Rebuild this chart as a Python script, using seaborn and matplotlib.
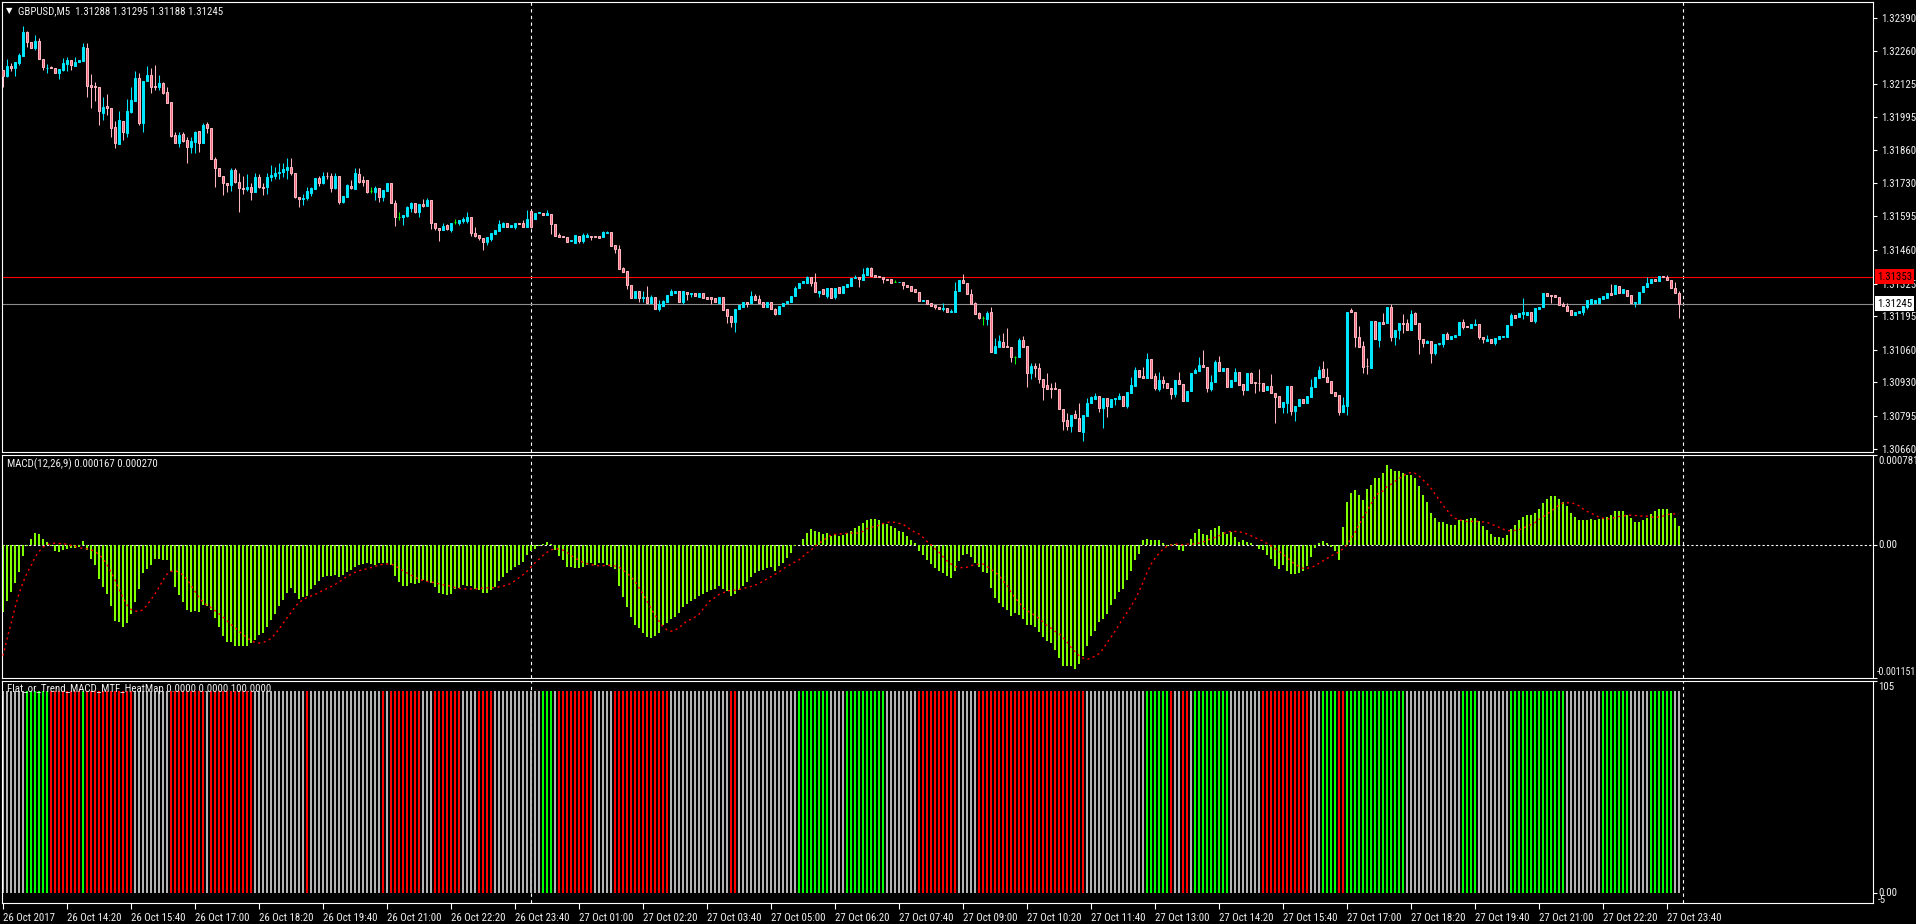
"""GBPUSD M5 terminal screen: candles, MACD(12,26,9) and the Flat/Trend MACD
heat map, redrawn into out.png at 1916x924."""
import numpy as np
import pandas as pd
import matplotlib
matplotlib.use("Agg")
import matplotlib.pyplot as plt
import matplotlib.transforms as mtransforms
from matplotlib import font_manager
import seaborn as sns

W, H = 1916, 924
INK = "#f2f2f2"
BULL = "#00e6ff"
BEAR_EDGE = "#ffb6c1"
BEAR_FACE = "#f06b7d"
DOJI = "#00ff00"
MACD_GREEN = "#7fff00"
SIGNAL_RED = "#ff0000"
HEAT_COLORS = {"red": "#ff0000", "green": "#00ff00", "flat": "#b4b4b4"}
FS = 7.8

# prices are stored as points above 1.30000 (1 point = 0.00001)
BASE_PRICE = 1.30000
OPEN_PTS = [
    2183, 2159, 2199, 2192, 2212, 2239, 2333, 2296, 2270, 2299,
    2225, 2189, 2196, 2189, 2169, 2183, 2207, 2223, 2200, 2213,
    2220, 2271, 2122, 2118, 2113, 2011, 2038, 2029, 1955, 1886,
    1979, 1931, 2015, 2060, 2149, 1969, 2139, 2163, 2118, 2116,
    2129, 2093, 2053, 1922, 1891, 1924, 1902, 1875, 1895, 1938,
    1888, 1966, 1948, 1824, 1788, 1757, 1730, 1721, 1781, 1734,
    1710, 1706, 1712, 1694, 1752, 1714, 1712, 1752, 1759, 1768,
    1775, 1781, 1792, 1771, 1674, 1664, 1668, 1690, 1706, 1748,
    1730, 1757, 1759, 1710, 1759, 1654, 1674, 1717, 1704, 1765,
    1741, 1741, 1698, 1694, 1708, 1674, 1698, 1728, 1650, 1594,
    1594, 1597, 1627, 1647, 1614, 1645, 1638, 1661, 1567, 1547,
    1540, 1560, 1540, 1574, 1567, 1578, 1578, 1591, 1527, 1520,
    1507, 1494, 1503, 1524, 1538, 1554, 1567, 1554, 1554, 1567,
    1570, 1551, 1618, 1583, 1607, 1607, 1601, 1605, 1564, 1520,
    1516, 1511, 1498, 1487, 1518, 1498, 1514, 1518, 1518, 1516,
    1514, 1530, 1531, 1480, 1463, 1387, 1376, 1321, 1269, 1296,
    1266, 1273, 1246, 1270, 1222, 1235, 1253, 1280, 1289, 1296,
    1253, 1290, 1282, 1286, 1273, 1286, 1270, 1270, 1266, 1246,
    1273, 1222, 1195, 1172, 1222, 1233, 1253, 1246, 1277, 1262,
    1250, 1233, 1253, 1222, 1202, 1235, 1246, 1253, 1276, 1306,
    1326, 1329, 1350, 1330, 1289, 1302, 1276, 1306, 1273, 1310,
    1289, 1313, 1316, 1346, 1353, 1340, 1360, 1387, 1360, 1356,
    1353, 1345, 1342, 1332, 1330, 1333, 1320, 1316, 1302, 1293,
    1255, 1259, 1246, 1239, 1233, 1222, 1226, 1213, 1213, 1296,
    1340, 1329, 1282, 1246, 1209, 1186, 1182, 1210, 1048, 1072,
    1092, 1075, 1072, 1029, 1029, 1099, 1075, 965, 994, 988,
    942, 918, 908, 908, 902, 822, 778, 754, 802, 787,
    731, 794, 845, 863, 874, 825, 865, 831, 862, 861,
    874, 834, 887, 916, 978, 954, 948, 1021, 954, 901,
    938, 925, 908, 882, 938, 922, 855, 895, 968, 976,
    999, 989, 901, 932, 1012, 976, 985, 909, 936, 972,
    922, 898, 968, 932, 928, 928, 898, 914, 887, 874,
    829, 847, 914, 815, 834, 861, 845, 869, 909, 945,
    981, 949, 934, 891, 878, 811, 834, 1219, 1213, 1112,
    1075, 995, 988, 1175, 1099, 1172, 1166, 1233, 1112, 1139,
    1168, 1166, 1139, 1206, 1168, 1102, 1088, 1096, 1045, 1083,
    1083, 1123, 1102, 1112, 1119, 1172, 1155, 1146, 1159, 1163,
    1112, 1096, 1102, 1088, 1102, 1110, 1112, 1159, 1199, 1193,
    1203, 1199, 1213, 1176, 1222, 1230, 1289, 1280, 1280, 1273,
    1243, 1235, 1219, 1198, 1209, 1213, 1233, 1243, 1246, 1246,
    1262, 1269, 1289, 1283, 1316, 1289, 1300, 1280, 1246, 1249,
    1290, 1313, 1326, 1342, 1337, 1356, 1353, 1340, 1306, 1288,
]
HIGH_PTS = [
    2183, 2225, 2209, 2215, 2250, 2359, 2341, 2296, 2323, 2310,
    2225, 2207, 2199, 2189, 2187, 2232, 2236, 2223, 2236, 2223,
    2292, 2290, 2167, 2136, 2113, 2073, 2086, 2029, 1979, 2019,
    1979, 2065, 2113, 2180, 2169, 2139, 2199, 2192, 2203, 2163,
    2136, 2113, 2053, 1935, 1935, 1935, 1912, 1912, 1939, 1938,
    1969, 1975, 1948, 1835, 1788, 1757, 1730, 1788, 1788, 1768,
    1757, 1765, 1728, 1771, 1765, 1730, 1768, 1801, 1792, 1810,
    1808, 1828, 1828, 1771, 1674, 1684, 1712, 1712, 1748, 1757,
    1775, 1775, 1771, 1768, 1759, 1677, 1725, 1741, 1788, 1788,
    1755, 1741, 1712, 1717, 1708, 1701, 1728, 1728, 1661, 1614,
    1601, 1637, 1654, 1647, 1643, 1664, 1668, 1661, 1567, 1547,
    1570, 1564, 1567, 1583, 1581, 1594, 1611, 1591, 1551, 1520,
    1507, 1511, 1527, 1540, 1581, 1574, 1567, 1559, 1567, 1567,
    1581, 1620, 1618, 1610, 1614, 1607, 1621, 1605, 1564, 1527,
    1516, 1511, 1500, 1520, 1518, 1527, 1527, 1518, 1518, 1516,
    1538, 1538, 1531, 1480, 1480, 1393, 1376, 1321, 1296, 1296,
    1296, 1316, 1280, 1270, 1259, 1259, 1280, 1302, 1296, 1296,
    1296, 1290, 1289, 1286, 1289, 1286, 1270, 1270, 1266, 1273,
    1273, 1222, 1195, 1222, 1239, 1253, 1253, 1296, 1282, 1280,
    1250, 1253, 1253, 1226, 1235, 1246, 1255, 1277, 1316, 1326,
    1336, 1356, 1350, 1367, 1297, 1302, 1306, 1306, 1306, 1310,
    1316, 1324, 1346, 1360, 1353, 1387, 1393, 1393, 1360, 1356,
    1353, 1345, 1342, 1340, 1333, 1333, 1320, 1316, 1302, 1293,
    1259, 1259, 1246, 1239, 1233, 1246, 1226, 1222, 1333, 1340,
    1364, 1329, 1302, 1253, 1213, 1195, 1217, 1233, 1106, 1119,
    1128, 1146, 1072, 1035, 1106, 1115, 1075, 1005, 1005, 1005,
    942, 968, 925, 932, 902, 822, 805, 798, 818, 845,
    798, 865, 874, 887, 874, 865, 865, 862, 865, 885,
    874, 889, 949, 992, 978, 992, 1045, 1021, 965, 972,
    954, 925, 908, 938, 972, 922, 895, 968, 985, 1029,
    1059, 989, 958, 1019, 1035, 988, 985, 938, 985, 972,
    922, 965, 972, 932, 981, 928, 914, 962, 887, 874,
    851, 914, 914, 834, 861, 861, 874, 941, 952, 994,
    1016, 985, 934, 891, 878, 869, 1213, 1226, 1213, 1155,
    1096, 1025, 1175, 1175, 1172, 1209, 1230, 1243, 1139, 1168,
    1203, 1182, 1219, 1213, 1168, 1102, 1099, 1096, 1083, 1088,
    1123, 1132, 1115, 1119, 1172, 1182, 1155, 1163, 1182, 1163,
    1112, 1119, 1102, 1106, 1115, 1115, 1159, 1209, 1199, 1206,
    1266, 1213, 1213, 1226, 1230, 1286, 1289, 1280, 1280, 1273,
    1253, 1246, 1219, 1211, 1217, 1235, 1259, 1262, 1259, 1266,
    1276, 1289, 1324, 1318, 1316, 1302, 1300, 1280, 1253, 1293,
    1316, 1350, 1342, 1342, 1356, 1356, 1358, 1340, 1333, 1295,
]
LOW_PTS = [
    2113, 2153, 2180, 2159, 2203, 2239, 2276, 2270, 2263, 2225,
    2183, 2172, 2189, 2169, 2148, 2177, 2180, 2183, 2200, 2213,
    2220, 2073, 2029, 2060, 1962, 1982, 2002, 1915, 1868, 1886,
    1902, 1912, 2009, 2060, 1962, 1935, 2139, 2092, 2102, 2102,
    2086, 2049, 1912, 1888, 1872, 1895, 1808, 1851, 1851, 1855,
    1888, 1928, 1824, 1712, 1757, 1681, 1694, 1698, 1728, 1614,
    1685, 1698, 1661, 1694, 1708, 1681, 1684, 1738, 1745, 1744,
    1752, 1745, 1761, 1668, 1631, 1641, 1661, 1677, 1706, 1717,
    1725, 1744, 1694, 1704, 1645, 1647, 1672, 1704, 1704, 1730,
    1717, 1690, 1688, 1661, 1654, 1657, 1698, 1647, 1556, 1581,
    1560, 1594, 1614, 1610, 1594, 1634, 1638, 1543, 1540, 1498,
    1540, 1540, 1534, 1564, 1560, 1570, 1570, 1516, 1511, 1500,
    1460, 1480, 1498, 1524, 1538, 1554, 1554, 1554, 1546, 1564,
    1554, 1551, 1547, 1583, 1607, 1601, 1601, 1523, 1516, 1511,
    1511, 1494, 1498, 1487, 1487, 1490, 1514, 1500, 1511, 1507,
    1514, 1530, 1476, 1447, 1383, 1373, 1302, 1269, 1269, 1250,
    1253, 1246, 1246, 1222, 1217, 1235, 1253, 1280, 1289, 1253,
    1242, 1259, 1273, 1277, 1273, 1269, 1262, 1242, 1253, 1246,
    1219, 1166, 1152, 1132, 1222, 1233, 1233, 1246, 1259, 1249,
    1233, 1233, 1222, 1198, 1202, 1235, 1246, 1253, 1276, 1306,
    1326, 1329, 1316, 1292, 1273, 1282, 1269, 1269, 1262, 1289,
    1289, 1313, 1316, 1346, 1310, 1340, 1360, 1356, 1353, 1350,
    1329, 1340, 1329, 1330, 1330, 1302, 1313, 1297, 1290, 1257,
    1255, 1242, 1237, 1222, 1222, 1215, 1213, 1210, 1213, 1296,
    1326, 1282, 1243, 1203, 1182, 1159, 1159, 1052, 1048, 1072,
    1072, 1072, 1012, 1001, 1029, 1072, 912, 941, 952, 928,
    858, 901, 865, 901, 821, 738, 738, 731, 784, 735,
    695, 794, 845, 863, 811, 744, 791, 831, 838, 861,
    834, 825, 887, 916, 952, 945, 948, 948, 898, 895,
    905, 905, 861, 871, 922, 855, 855, 895, 968, 976,
    989, 891, 895, 932, 976, 976, 909, 909, 936, 918,
    878, 898, 928, 885, 895, 895, 898, 885, 767, 829,
    807, 805, 798, 775, 834, 845, 845, 869, 909, 945,
    949, 932, 887, 874, 798, 811, 798, 1213, 1069, 1072,
    968, 962, 988, 1102, 1072, 1163, 1166, 1096, 1079, 1102,
    1126, 1139, 1139, 1163, 1043, 1069, 1085, 1008, 1039, 1080,
    1072, 1102, 1102, 1112, 1119, 1142, 1150, 1146, 1159, 1102,
    1088, 1096, 1088, 1079, 1102, 1110, 1112, 1159, 1186, 1193,
    1182, 1199, 1176, 1168, 1222, 1230, 1276, 1246, 1270, 1239,
    1235, 1217, 1198, 1198, 1209, 1199, 1222, 1243, 1246, 1246,
    1262, 1269, 1280, 1283, 1286, 1289, 1276, 1246, 1230, 1249,
    1290, 1313, 1326, 1337, 1337, 1350, 1340, 1306, 1289, 1188,
]
CLOSE_PTS = [
    2159, 2199, 2192, 2215, 2243, 2333, 2296, 2270, 2300, 2225,
    2193, 2192, 2189, 2169, 2187, 2212, 2223, 2203, 2216, 2223,
    2274, 2120, 2113, 2113, 2019, 2033, 2029, 1948, 1888, 1982,
    1932, 2019, 2062, 2149, 1971, 2139, 2163, 2116, 2113, 2129,
    2092, 2051, 1918, 1891, 1922, 1899, 1875, 1898, 1935, 1888,
    1962, 1948, 1824, 1788, 1757, 1728, 1721, 1781, 1734, 1708,
    1706, 1712, 1694, 1752, 1712, 1708, 1752, 1761, 1768, 1775,
    1784, 1792, 1768, 1674, 1664, 1670, 1697, 1708, 1748, 1730,
    1757, 1755, 1710, 1759, 1654, 1677, 1721, 1708, 1768, 1734,
    1734, 1694, 1698, 1708, 1674, 1701, 1728, 1647, 1594, 1594,
    1601, 1631, 1647, 1614, 1643, 1638, 1661, 1567, 1547, 1540,
    1556, 1543, 1567, 1574, 1581, 1585, 1591, 1527, 1516, 1507,
    1494, 1511, 1527, 1540, 1564, 1567, 1554, 1559, 1567, 1564,
    1554, 1583, 1551, 1610, 1614, 1601, 1607, 1564, 1516, 1514,
    1511, 1494, 1500, 1520, 1498, 1520, 1520, 1514, 1511, 1507,
    1534, 1534, 1476, 1463, 1383, 1373, 1320, 1269, 1296, 1269,
    1273, 1246, 1273, 1222, 1242, 1255, 1280, 1297, 1296, 1253,
    1296, 1282, 1289, 1277, 1289, 1269, 1262, 1262, 1253, 1273,
    1219, 1195, 1172, 1222, 1239, 1253, 1243, 1277, 1259, 1249,
    1233, 1253, 1222, 1202, 1235, 1246, 1255, 1277, 1306, 1326,
    1335, 1350, 1329, 1292, 1297, 1282, 1306, 1269, 1306, 1289,
    1316, 1324, 1346, 1353, 1342, 1364, 1387, 1356, 1353, 1350,
    1342, 1340, 1329, 1332, 1333, 1318, 1313, 1297, 1290, 1257,
    1259, 1242, 1237, 1233, 1222, 1229, 1213, 1217, 1296, 1340,
    1326, 1282, 1243, 1203, 1186, 1186, 1206, 1052, 1075, 1096,
    1072, 1072, 1032, 1029, 1099, 1072, 965, 994, 985, 941,
    912, 901, 902, 901, 821, 775, 754, 798, 784, 735,
    798, 845, 869, 874, 825, 865, 834, 862, 865, 874,
    834, 889, 918, 978, 952, 945, 1021, 948, 905, 938,
    925, 905, 882, 938, 922, 855, 895, 968, 978, 999,
    989, 905, 932, 1012, 976, 988, 909, 938, 972, 918,
    898, 965, 928, 925, 925, 895, 914, 885, 871, 829,
    851, 914, 815, 834, 861, 845, 874, 909, 952, 978,
    949, 932, 887, 874, 811, 838, 1213, 1213, 1110, 1072,
    992, 993, 1175, 1102, 1172, 1163, 1230, 1112, 1139, 1168,
    1163, 1139, 1203, 1163, 1102, 1088, 1096, 1048, 1083, 1085,
    1123, 1102, 1115, 1119, 1172, 1152, 1150, 1163, 1163, 1110,
    1102, 1102, 1088, 1106, 1115, 1115, 1159, 1199, 1186, 1206,
    1210, 1213, 1176, 1226, 1230, 1286, 1276, 1276, 1270, 1239,
    1235, 1217, 1198, 1211, 1217, 1235, 1259, 1262, 1259, 1266,
    1276, 1289, 1280, 1318, 1286, 1302, 1276, 1246, 1253, 1293,
    1316, 1329, 1342, 1337, 1356, 1350, 1340, 1306, 1289, 1245,
]

# MACD main and signal, in millionths (1e-6)
MACD_E6 = [
    -580, -484, -405, -327, -230, -93, -11, 52, 108, 99,
    52, 29, -6, -52, -62, -46, -35, -29, -21, -17,
    38, -41, -116, -172, -289, -362, -425, -525, -658, -668,
    -711, -676, -600, -492, -382, -244, -210, -172, -119, -119,
    -128, -128, -222, -362, -434, -492, -565, -580, -571, -580,
    -522, -530, -565, -630, -711, -790, -842, -842, -871, -877,
    -877, -871, -850, -819, -778, -763, -711, -652, -595, -530,
    -472, -414, -370, -414, -463, -449, -440, -384, -347, -309,
    -274, -268, -268, -259, -279, -259, -230, -216, -187, -172,
    -166, -152, -163, -172, -157, -157, -152, -172, -268, -317,
    -355, -355, -332, -338, -327, -303, -312, -332, -362, -414,
    -425, -428, -420, -384, -367, -347, -355, -355, -384, -390,
    -414, -414, -390, -362, -309, -274, -239, -216, -192, -172,
    -143, -84, -55, -35, -6, 11, 29, 6, -46, -93,
    -128, -187, -192, -201, -201, -192, -172, -157, -172, -157,
    -152, -172, -192, -210, -355, -449, -536, -623, -688, -717,
    -763, -798, -804, -784, -763, -696, -676, -638, -623, -585,
    -536, -507, -484, -463, -443, -420, -405, -390, -384, -355,
    -376, -396, -440, -425, -390, -355, -317, -274, -239, -222,
    -216, -201, -192, -222, -181, -152, -114, -70, -11, 3,
    55, 105, 143, 125, 116, 99, 108, 81, 99, 76,
    90, 105, 125, 149, 169, 192, 222, 230, 230, 216,
    192, 187, 169, 146, 125, 111, 81, 46, 17, -49,
    -87, -128, -163, -201, -222, -239, -268, -282, -222, -137,
    -84, -76, -105, -157, -192, -230, -244, -367, -455, -498,
    -536, -560, -615, -589, -603, -644, -688, -690, -706, -749,
    -793, -828, -850, -906, -979, -1045, -1045, -1045, -1069, -1031,
    -958, -871, -784, -741, -668, -638, -595, -522, -469, -405,
    -376, -303, -222, -128, -76, 41, 55, 41, 46, 46,
    17, -11, 11, 6, -46, -55, -3, 55, 105, 143,
    99, 90, 134, 149, 169, 114, 99, 111, 70, 29,
    46, 24, 17, 2, -32, -46, -84, -122, -181, -206,
    -172, -222, -251, -251, -244, -222, -181, -105, -29, 17,
    35, 17, -17, -49, -128, 157, 373, 449, 475, 431,
    387, 490, 519, 580, 580, 623, 693, 658, 641, 641,
    623, 606, 606, 580, 509, 431, 373, 282, 236, 204,
    204, 187, 178, 178, 216, 222, 230, 239, 239, 206,
    169, 134, 99, 73, 73, 64, 90, 143, 178, 216,
    241, 265, 257, 282, 309, 362, 396, 422, 422, 396,
    370, 335, 282, 248, 222, 216, 222, 230, 222, 230,
    239, 248, 257, 292, 292, 292, 265, 239, 204, 204,
    222, 239, 274, 292, 309, 317, 317, 282, 239, 167,
]
SIGNAL_E6 = [
    -958, -813, -682, -542, -420, -324, -241, -178, -105, -55,
    -17, 3, 14, 17, 14, 11, 9, -3, -9, -21,
    -29, -32, -41, -55, -81, -116, -169, -233, -303, -376,
    -455, -519, -557, -571, -574, -560, -519, -472, -422, -365,
    -303, -251, -227, -222, -233, -259, -297, -347, -402, -452,
    -492, -522, -542, -568, -595, -623, -655, -688, -714, -746,
    -775, -801, -828, -842, -848, -842, -831, -807, -772, -728,
    -679, -630, -585, -533, -498, -472, -455, -440, -428, -411,
    -390, -376, -358, -341, -320, -295, -271, -254, -236, -222,
    -213, -204, -195, -184, -172, -166, -163, -163, -178, -201,
    -222, -241, -259, -279, -295, -306, -314, -320, -327, -335,
    -344, -349, -355, -367, -373, -379, -379, -379, -379, -376,
    -373, -370, -370, -367, -362, -355, -347, -330, -309, -282,
    -257, -227, -189, -154, -122, -90, -62, -41, -32, -32,
    -44, -64, -90, -111, -131, -149, -160, -169, -175, -178,
    -178, -175, -175, -181, -192, -216, -244, -274, -314, -370,
    -422, -487, -547, -606, -658, -706, -734, -746, -737, -714,
    -688, -655, -644, -623, -600, -554, -513, -472, -455, -428,
    -414, -396, -393, -390, -384, -376, -367, -358, -347, -332,
    -312, -292, -271, -251, -233, -206, -184, -166, -146, -128,
    -97, -67, -44, -11, 14, 41, 64, 87, 93, 97,
    99, 102, 105, 105, 105, 119, 143, 154, 163, 172,
    187, 198, 198, 198, 189, 181, 157, 134, 111, 97,
    67, 32, 3, -32, -62, -99, -137, -163, -184, -195,
    -195, -192, -178, -169, -166, -163, -187, -210, -233, -262,
    -309, -347, -408, -457, -495, -542, -568, -589, -609, -635,
    -665, -696, -720, -746, -766, -801, -839, -885, -923, -956,
    -979, -988, -982, -958, -941, -901, -845, -798, -746, -690,
    -635, -585, -530, -472, -400, -324, -239, -166, -114, -73,
    -35, -11, 0, 11, 6, 3, 9, 9, 11, 17,
    29, 41, 55, 67, 81, 97, 114, 119, 119, 116,
    108, 97, 81, 64, 49, 38, 14, -6, -29, -52,
    -79, -108, -137, -166, -184, -201, -201, -192, -181, -157,
    -137, -116, -93, -76, -59, -32, 0, 59, 111, 175,
    241, 295, 358, 422, 455, 469, 507, 527, 554, 577,
    600, 620, 630, 623, 600, 565, 533, 492, 443, 396,
    344, 303, 259, 233, 222, 210, 204, 206, 206, 204,
    201, 198, 184, 169, 154, 140, 125, 125, 128, 134,
    146, 163, 178, 195, 222, 244, 271, 292, 320, 347,
    365, 367, 367, 358, 341, 314, 292, 277, 262, 241,
    233, 227, 230, 239, 248, 254, 257, 259, 257, 254,
    251, 251, 244, 241, 244, 251, 262, 271, 271, 270,
]
MACD_SCALE = (-0.001151, 0.000781)

# heat map state per bar, as runs of (state, number of bars)
HEAT_RUNS = [
    ("flat", 6), ("green", 6), ("red", 8), ("green", 1), ("red", 12), ("flat", 9),
    ("red", 9), ("flat", 1), ("red", 11), ("flat", 13), ("red", 1), ("flat", 18),
    ("red", 1), ("flat", 1), ("red", 8), ("flat", 3), ("red", 7), ("flat", 4),
    ("red", 4), ("flat", 12), ("green", 3), ("flat", 1), ("red", 9), ("flat", 5),
    ("red", 14), ("flat", 15), ("red", 2), ("flat", 15), ("green", 8), ("flat", 4),
    ("green", 10), ("flat", 8), ("red", 10), ("flat", 5), ("red", 27), ("flat", 15),
    ("green", 6), ("red", 1), ("flat", 2), ("red", 2), ("flat", 1), ("green", 9),
    ("flat", 8), ("red", 12), ("flat", 3), ("green", 4), ("red", 2), ("green", 15),
    ("flat", 14), ("green", 4), ("flat", 8), ("green", 14), ("flat", 9), ("green", 7),
    ("flat", 5), ("green", 6), ("flat", 2),
]
HEAT_LEVEL = 100.0
HEAT_SCALE = (-5, 105)

PRICE_TICKS = [1.32390, 1.32260, 1.32125, 1.31995, 1.31860, 1.31730, 1.31595,
               1.31460, 1.31325, 1.31195, 1.31060, 1.30930, 1.30795, 1.30660]
PRICE_SCALE = (1.306492, 1.324554)
RED_LEVEL = 1.31353
BID = 1.31245
TIME_BARS = [0, 16, 32, 48, 64, 80, 96, 112, 128, 144, 160, 176, 192, 208,
             224, 240, 256, 272, 288, 304, 320, 336, 352, 368, 384, 400, 416]
TIME_LABELS = ["26 Oct 2017", "26 Oct 14:20", "26 Oct 15:40", "26 Oct 17:00",
               "26 Oct 18:20", "26 Oct 19:40", "26 Oct 21:00", "26 Oct 22:20",
               "26 Oct 23:40", "27 Oct 01:00", "27 Oct 02:20", "27 Oct 03:40",
               "27 Oct 05:00", "27 Oct 06:20", "27 Oct 07:40", "27 Oct 09:00",
               "27 Oct 10:20", "27 Oct 11:40", "27 Oct 13:00", "27 Oct 14:20",
               "27 Oct 15:40", "27 Oct 17:00", "27 Oct 18:20", "27 Oct 19:40",
               "27 Oct 21:00", "27 Oct 22:20", "27 Oct 23:40"]
DAY_BREAKS = [132, 420]


def frame(x0, y0, x1, y1):
    return [x0 / W, 1 - y1 / H, (x1 - x0) / W, (y1 - y0) / H]


def style_pane(ax):
    ax.set_facecolor("black")
    for sp in ax.spines.values():
        sp.set_color("white")
        sp.set_linewidth(0.8)
    ax.set_xlim(-0.25, 467.5)
    ax.set_xlabel("")
    ax.set_ylabel("")
    ax.grid(False)


def right_text(ax, y, s, dy=0, dx=6, **kw):
    tr = mtransforms.offset_copy(
        mtransforms.blended_transform_factory(ax.transAxes, ax.transData),
        fig=ax.figure, x=dx, y=dy, units="dots")
    kw.setdefault("color", INK)
    kw.setdefault("fontsize", FS)
    return ax.text(1.0, y, s, transform=tr, ha="left", va="center",
                   clip_on=False, **kw)


sns.set_theme(style="dark")
names = {f.name for f in font_manager.fontManager.ttflist}
ui_font = next((f for f in ["Liberation Sans Narrow", "Roboto Condensed",
                            "Liberation Sans", "Arial"] if f in names), "DejaVu Sans")
plt.rcParams["font.family"] = [ui_font, "DejaVu Sans"]

fig = plt.figure(figsize=(W / 100, H / 100), dpi=100, facecolor="black")
ax1 = fig.add_axes(frame(2, 2, 1873, 452))
ax2 = fig.add_axes(frame(2, 455, 1873, 678))
ax3 = fig.add_axes(frame(2, 681, 1873, 903))

n = len(CLOSE_PTS)
assert all(len(a) == n for a in (OPEN_PTS, HIGH_PTS, LOW_PTS, MACD_E6, SIGNAL_E6))
bars = np.arange(n)
o_pts, c_pts = np.array(OPEN_PTS), np.array(CLOSE_PTS)
op = BASE_PRICE + o_pts / 1e5
cl = BASE_PRICE + c_pts / 1e5
hi = BASE_PRICE + np.array(HIGH_PTS) / 1e5
lo = BASE_PRICE + np.array(LOW_PTS) / 1e5
up, dn, eq = c_pts > o_pts, c_pts < o_pts, c_pts == o_pts

# 1. price pane
style_pane(ax1)
for b in DAY_BREAKS:
    ax1.axvline(b, color="white", lw=0.8, ls=(0, (3, 3)), zorder=1)
ax1.axhline(RED_LEVEL, color="#ff0000", lw=0.8, zorder=2)
ax1.axhline(BID, color="#8c8c8c", lw=0.8, zorder=2)
wick_colors = np.where(up, BULL, np.where(dn, BEAR_EDGE, DOJI))
ax1.vlines(bars, lo, hi, colors=wick_colors, lw=0.75, zorder=3)
ax1.bar(bars[up], (cl - op)[up], bottom=op[up], width=0.45, color=BULL,
        edgecolor=BULL, linewidth=0.75, zorder=4)
ax1.bar(bars[dn], (op - cl)[dn], bottom=cl[dn], width=0.45, facecolor=BEAR_FACE,
        edgecolor=BEAR_EDGE, linewidth=0.75, zorder=4)
ax1.hlines(op[eq], bars[eq] - 0.35, bars[eq] + 0.35, colors=DOJI, lw=0.75, zorder=4)
ax1.set_ylim(*PRICE_SCALE)
ax1.set_xticks([])
ax1.yaxis.tick_right()
ax1.set_yticks(PRICE_TICKS)
ax1.set_yticklabels([f"{v:.5f}" for v in PRICE_TICKS])
ax1.tick_params(axis="y", colors="white", labelcolor=INK, length=3, width=0.8,
                pad=3, labelsize=FS, right=True)
right_text(ax1, RED_LEVEL, "1.31353", dx=4, color="black", zorder=10,
           bbox=dict(boxstyle="square,pad=0.2", fc="#ff0000", ec="none"))
right_text(ax1, BID, "1.31245", dx=4, color="black", zorder=10,
           bbox=dict(boxstyle="square,pad=0.2", fc="white", ec="none"))
ax1.text(0.0, 1.0, "\u25bc", transform=mtransforms.offset_copy(ax1.transAxes, fig=fig, x=4, y=-9, units="dots"),
         color="white", fontsize=6, va="center", ha="left", family="DejaVu Sans")
ax1.text(0.0, 1.0, "GBPUSD,M5  1.31288 1.31295 1.31188 1.31245",
         transform=mtransforms.offset_copy(ax1.transAxes, fig=fig, x=16, y=-9, units="dots"),
         color=INK, fontsize=FS, va="center", ha="left")

# 2. MACD pane
macd = pd.DataFrame({"bar": bars, "macd": np.array(MACD_E6) / 1e6,
                     "signal": np.array(SIGNAL_E6) / 1e6})
style_pane(ax2)
for b in DAY_BREAKS:
    ax2.axvline(b, color="white", lw=0.8, ls=(0, (3, 3)), zorder=0.5)
ax2.axhline(0, color="white", lw=0.8, ls=(0, (2, 2)), zorder=0.5)
sns.barplot(data=macd, x="bar", y="macd", native_scale=True, width=0.72,
            color=MACD_GREEN, saturation=1, errorbar=None, linewidth=0, ax=ax2)
for p in ax2.patches:
    p.set_antialiased(False)
sns.lineplot(data=macd, x="bar", y="signal", color=SIGNAL_RED, lw=1.0,
             linestyle=(0, (1.5, 2.5)), ax=ax2, zorder=5)
style_pane(ax2)
ax2.set_ylim(*MACD_SCALE)
ax2.set_xticks([])
ax2.yaxis.tick_right()
ax2.set_yticks([MACD_SCALE[1], 0.0, MACD_SCALE[0]])
ax2.set_yticklabels([])
ax2.tick_params(axis="y", colors="white", length=3, width=0.8)
right_text(ax2, MACD_SCALE[1], "0.000781", dy=-6, dx=5)
right_text(ax2, 0.0, "0.00", dx=5)
right_text(ax2, MACD_SCALE[0], "-0.001151", dy=6, dx=4, fontsize=7.2)
ax2.text(0.0, 1.0, "MACD(12,26,9) 0.000167 0.000270",
         transform=mtransforms.offset_copy(ax2.transAxes, fig=fig, x=5, y=-9, units="dots"),
         color=INK, fontsize=FS, va="center", ha="left")

# 3. heat map pane
states = [s for s, k in HEAT_RUNS for _ in range(k)]
heat = pd.DataFrame({"bar": bars, "level": HEAT_LEVEL, "state": states})
style_pane(ax3)
for b in DAY_BREAKS:
    ax3.axvline(b, color="white", lw=0.8, ls=(0, (3, 3)), zorder=0.5)
sns.barplot(data=heat, x="bar", y="level", hue="state", palette=HEAT_COLORS,
            dodge=False, native_scale=True, width=0.72, saturation=1,
            errorbar=None, linewidth=0, legend=False, ax=ax3)
for p in ax3.patches:
    p.set_antialiased(False)
style_pane(ax3)
ax3.set_ylim(*HEAT_SCALE)
ax3.yaxis.tick_right()
ax3.set_yticks([HEAT_SCALE[1], 0.0])
ax3.set_yticklabels([])
ax3.tick_params(axis="y", colors="white", length=3, width=0.8)
right_text(ax3, HEAT_SCALE[1], "105", dy=-6, dx=5)
right_text(ax3, 0.0, "0.00", dx=5)
right_text(ax3, HEAT_SCALE[0], "-5", dy=3, dx=5)
ax3.set_xticks(TIME_BARS)
ax3.set_xticklabels(TIME_LABELS, ha="left")
ax3.tick_params(axis="x", colors="white", labelcolor=INK, length=4, width=0.8,
                pad=3, labelsize=FS, bottom=True)
ax3.text(0.0, 1.0, "Flat_or_Trend_MACD_MTF_HeatMap 0.0000 0.0000 100.0000",
         transform=mtransforms.offset_copy(ax3.transAxes, fig=fig, x=5, y=-8, units="dots"),
         color=INK, fontsize=FS, va="center", ha="left", zorder=10)

fig.savefig("out.png", dpi=100, facecolor="black")
